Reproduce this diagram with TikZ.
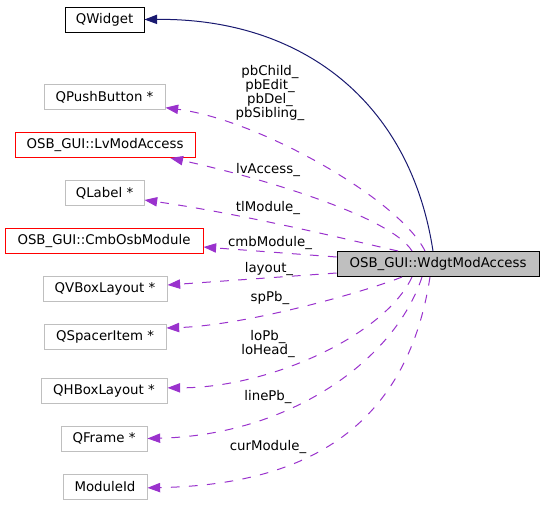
\documentclass[tikz,border=0pt]{standalone}
\usepackage{fontspec}
\setmainfont{DejaVu Sans}
\usetikzlibrary{arrows.meta}

\definecolor{edgepurple}{HTML}{9A32CD}
\definecolor{edgenavy}{HTML}{191970}
\definecolor{boxgray}{HTML}{BFBFBF}

\begin{document}
\begin{tikzpicture}[x=0.75pt, y=-0.75pt, >={Triangle[length=9.5pt, width=7pt]},
	cls/.style={draw, line width=0.75pt, minimum height=18.75pt, inner sep=0pt, font=\fontsize{10}{10.5}\selectfont},
	plain/.style={cls, draw=boxgray},
	doc/.style={cls, draw=red},
	lbl/.style={align=center, inner sep=0pt, font=\fontsize{10}{10.5}\selectfont},
	member/.style={edgepurple, line width=0.75pt, dash pattern=on 6.5pt off 7pt, ->},
	inherit/.style={edgenavy, line width=0.75pt, ->}]
	\useasboundingbox (0,0) rectangle (544,515);

	% classes
	\node[cls, minimum width=59.25pt] (qwidget) at (104.5,19.5) {QWidget};
	\node[plain, minimum width=90.75pt] (pushbtn) at (104.5,97) {QPushButton *};
	\node[doc, minimum width=135pt] (lvmod) at (105,145) {OSB\_GUI::LvModAccess};
	\node[plain, minimum width=59.25pt] (qlabel) at (104.5,193) {QLabel *};
	\node[doc, minimum width=148.5pt] (cmbosb) at (104,241) {OSB\_GUI::CmbOsbModule};
	\node[plain, minimum width=93pt] (vbox) at (105,289) {QVBoxLayout *};
	\node[plain, minimum width=91.5pt] (spacer) at (105,337) {QSpacerItem *};
	\node[plain, minimum width=94.5pt] (hbox) at (104,390.5) {QHBoxLayout *};
	\node[plain, minimum width=64.5pt] (frame) at (104,438.5) {QFrame *};
	\node[plain, minimum width=63pt] (modid) at (105,486.5) {ModuleId};
	\node[cls, fill=boxgray, minimum width=151.5pt] (wdgt) at (438,264) {OSB\_GUI::WdgtModAccess};

	% base class
	\draw[inherit] ([xshift=-3.75pt]wdgt.north) .. controls (410,100) and (300,18) .. (qwidget.east);

	% members
	\draw[member] ([xshift=-9.75pt]wdgt.north) .. controls (400,200) and (260,120) .. ([yshift=-8pt]pushbtn.east);
	\draw[member] ([xshift=-19.5pt]wdgt.north) .. controls (390,215) and (250,175) .. ([xshift=49pt]lvmod.south);
	\draw[member] ([xshift=-30pt]wdgt.north) .. controls (370,245) and (250,215) .. ([yshift=-5.25pt]qlabel.east);
	\draw[member] ([yshift=5.25pt]wdgt.west) -- ([yshift=-4.5pt]cmbosb.east);
	\draw[member] ([yshift=-6.75pt]wdgt.west) -- ([yshift=3pt]vbox.east);
	\draw[member] ([xshift=-27pt]wdgt.south) .. controls (370,290) and (250,325) .. ([yshift=6.75pt]spacer.east);
	\draw[member] ([xshift=-19.5pt]wdgt.south) .. controls (385,335) and (270,388) .. ([yshift=2pt]hbox.east);
	\draw[member] ([xshift=-12pt]wdgt.south) .. controls (395,360) and (290,435) .. (frame.east);
	\draw[member] ([xshift=-6pt]wdgt.south) .. controls (405,440) and (290,485) .. ([yshift=-1pt]modid.east);

	% member names
	\node[lbl] (pbname) at (270,93.5) {pbChild\_\\pbEdit\_\\pbDel\_\\pbSibling\_};
	\node[lbl] (lvname) at (268,170) {lvAccess\_};
	\node[lbl] (tlname) at (268,208) {tlModule\_};
	\node[lbl] (cmbname) at (270,243) {cmbModule\_};
	\node[lbl] (layname) at (269,269) {layout\_};
	\node[lbl] (spname) at (270,298) {spPb\_};
	\node[lbl] (loname) at (268,344) {loPb\_\\loHead\_};
	\node[lbl] (linename) at (268,397) {linePb\_};
	\node[lbl] (curname) at (268,447) {curModule\_};
\end{tikzpicture}
\end{document}
